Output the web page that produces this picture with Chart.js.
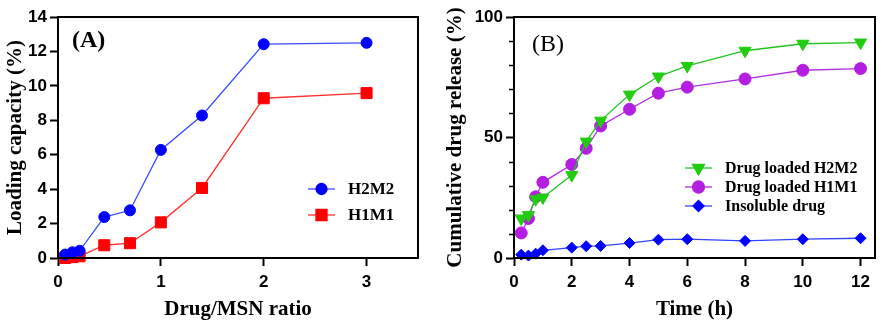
<!DOCTYPE html>
<html>
<head>
<meta charset="utf-8">
<script src="https://cdn.jsdelivr.net/npm/chart.js@4.4.0/dist/chart.umd.min.js"></script>
<style>
  body { margin: 0; background: #fff; }
  .box { position: absolute; top: 0; height: 328px; }
  #boxA { left: 0; width: 440px; }
  #boxB { left: 440px; width: 447px; }
</style>
</head>
<body>
<div class="box" id="boxA"><canvas id="chartA"></canvas></div>
<div class="box" id="boxB"><canvas id="chartB"></canvas></div>
<script>
// panel A - loading capacity
const ratioA = [0.07, 0.14, 0.21, 0.45, 0.7, 1, 1.4, 2, 3];
const h2m2Load = [0.2, 0.33, 0.42, 2.38, 2.77, 6.28, 8.28, 12.42, 12.5];
const h1m1Load = [0.0, 0.05, 0.1, 0.74, 0.86, 2.07, 4.07, 9.28, 9.58];

// panel B - release profile
const timeH = [0.25, 0.5, 0.75, 1, 2, 2.5, 3, 4, 5, 6, 8, 10, 12];
const h2m2Rel = [16.4, 17.8, 24.4, 25.1, 34.4, 48.3, 57.0, 67.8, 75.3, 79.7, 86.0, 88.9, 89.4];
const h1m1Rel = [10.4, 16.4, 25.4, 31.4, 38.8, 45.5, 54.8, 61.7, 68.4, 70.9, 74.3, 77.9, 78.6];
const insolRel = [1.4, 1.0, 1.8, 3.2, 4.3, 4.9, 5.0, 6.2, 7.6, 7.8, 7.1, 7.8, 8.2];

const ticksA_y = [0, 2, 4, 6, 8, 10, 12, 14];
const ticksA_x = [0, 1, 2, 3];
const ticksB_x = [0, 2, 4, 6, 8, 10, 12];
const ticksB_y = [0, 50, 100];
const minorB_y = [10, 20, 30, 40, 60, 70, 80, 90];

Chart.defaults.font.family = "'Liberation Sans', Arial, sans-serif";
Chart.defaults.color = "#000";

function pts(xs, ys) {
    return xs.map((x, i) => ({ x: x, y: ys[i] }));
}

// frame + legend + panel letter
const decor = {
    id: "decor",
    afterDraw(chart, args, opts) {
        const ctx = chart.ctx;
        const a = chart.chartArea;
        ctx.save();
        ctx.strokeStyle = "#000";
        ctx.lineWidth = 2;
        ctx.strokeRect(a.left, a.top, a.right - a.left, a.bottom - a.top);

        if (opts.minor) {
            const sc = chart.scales.y;
            ctx.lineWidth = 1.5;
            opts.minor.forEach((v) => {
                const py = Math.round(sc.getPixelForValue(v)) + 0.5;
                ctx.beginPath();
                ctx.moveTo(a.left - 5, py);
                ctx.lineTo(a.left, py);
                ctx.stroke();
            });
        }

        ctx.fillStyle = "#000";
        ctx.textBaseline = "middle";
        ctx.textAlign = "left";
        ctx.font = opts.letterFont;
        ctx.fillText(opts.letter, opts.letterX, opts.letterY);

        ctx.font = "bold " + opts.legSize + "px 'Liberation Serif', 'Times New Roman', serif";
        chart.data.datasets.forEach((ds, i) => {
            const y = opts.legY + i * opts.legRow;
            ctx.strokeStyle = ds.borderColor;
            ctx.lineWidth = 1.3;
            ctx.beginPath();
            ctx.moveTo(opts.legX, y);
            ctx.lineTo(opts.legX + 27, y);
            ctx.stroke();
            ctx.fillStyle = ds.pointBackgroundColor;
            ctx.strokeStyle = ds.pointBackgroundColor;
            Chart.helpers.drawPoint(ctx, {
                pointStyle: ds.pointStyle,
                rotation: ds.pointRotation || 0,
                radius: ds.pointRadius,
                borderWidth: 1,
            }, opts.legX + 13.5, y);
            ctx.fillStyle = "#000";
            ctx.fillText(ds.label, opts.legX + 40, y + 1);
        });
        ctx.restore();
    },
};

function axisStyle(min, max, keep, fitW, fitH, title, titlePad) {
    return {
        type: "linear",
        min: min,
        max: max,
        ticks: {
            font: { size: 17, weight: "bold" },
            color: "#000",
            padding: fitW ? 3 : 6,
        },
        afterBuildTicks: (s) => {
            s.ticks = keep.map((v) => ({ value: v }));
        },
        afterFit: (s) => {
            if (fitW) s.width = fitW;
            if (fitH) s.height = fitH;
        },
        grid: {
            drawOnChartArea: false,
            drawTicks: true,
            tickLength: 8,
            tickWidth: 2,
            tickColor: "#000",
        },
        border: { display: true, color: "#000", width: 2 },
        title: {
            display: true,
            text: title,
            color: "#000",
            font: { family: "'Liberation Serif', 'Times New Roman', serif", size: 21, weight: "bold" },
            padding: titlePad,
        },
    };
}

function lineSet(label, data, line, marker, style, radius, rot) {
    return {
        label: label,
        data: data,
        showLine: true,
        borderColor: line,
        borderWidth: 1.3,
        pointBackgroundColor: marker,
        pointBorderColor: marker,
        pointBorderWidth: 1,
        pointStyle: style,
        pointRadius: radius,
        pointRotation: rot || 0,
        tension: 0,
        clip: false,
    };
}

const chartA = new Chart(document.getElementById("chartA"), {
    type: "scatter",
    data: {
        datasets: [
            lineSet("H2M2", pts(ratioA, h2m2Load), "#3a4cff", "#0000ff", "circle", 5.5),
            lineSet("H1M1", pts(ratioA, h1m1Load), "#ff3030", "#ff0000", "rect", 7.8),
        ],
    },
    options: {
        responsive: true,
        maintainAspectRatio: false,
        animation: false,
        layout: { padding: { top: 17, right: 22, left: 0, bottom: 0 } },
        plugins: {
            legend: { display: false },
            tooltip: { enabled: false },
            decor: {
                letter: "(A)",
                letterFont: "bold 24px 'Liberation Serif', 'Times New Roman', serif",
                letterX: 72,
                letterY: 41,
                legX: 308,
                legY: 189,
                legRow: 26,
                legSize: 17,
            },
        },
        scales: {
            x: axisStyle(0, 3.5, ticksA_x, null, 70, "Drug/MSN ratio", { top: 0, bottom: 6 }),
            y: axisStyle(0, 14, ticksA_y, 58, null, "Loading capacity (%)", { top: 2.5, bottom: 0 }),
        },
    },
    plugins: [decor],
});

const chartB = new Chart(document.getElementById("chartB"), {
    type: "scatter",
    data: {
        datasets: [
            lineSet("Drug loaded H2M2", pts(timeH, h2m2Rel), "#22c322", "#22cc11", "triangle", 7, 180),
            lineSet("Drug loaded H1M1", pts(timeH, h1m1Rel), "#b32ee0", "#b31ee0", "circle", 6),
            lineSet("Insoluble drug", pts(timeH, insolRel), "#3344ff", "#0000ff", "rectRot", 5.5),
        ],
    },
    options: {
        responsive: true,
        maintainAspectRatio: false,
        animation: false,
        layout: { padding: { top: 17, right: 12, left: 0, bottom: 0 } },
        plugins: {
            legend: { display: false },
            tooltip: { enabled: false },
            decor: {
                letter: "(B)",
                letterFont: "24px 'Liberation Serif', 'Times New Roman', serif",
                letterX: 92,
                letterY: 45,
                legX: 245,
                legY: 168,
                legRow: 19,
                legSize: 16,
                minor: minorB_y,
            },
        },
        scales: {
            x: axisStyle(0, 12.5, ticksB_x, null, 70, "Time (h)", { top: 0, bottom: 6 }),
            y: axisStyle(0, 100, ticksB_y, 74, null, "Cumulative drug release (%)", { top: 3, bottom: 0 }),
        },
    },
    plugins: [decor],
});
</script>
</body>
</html>
